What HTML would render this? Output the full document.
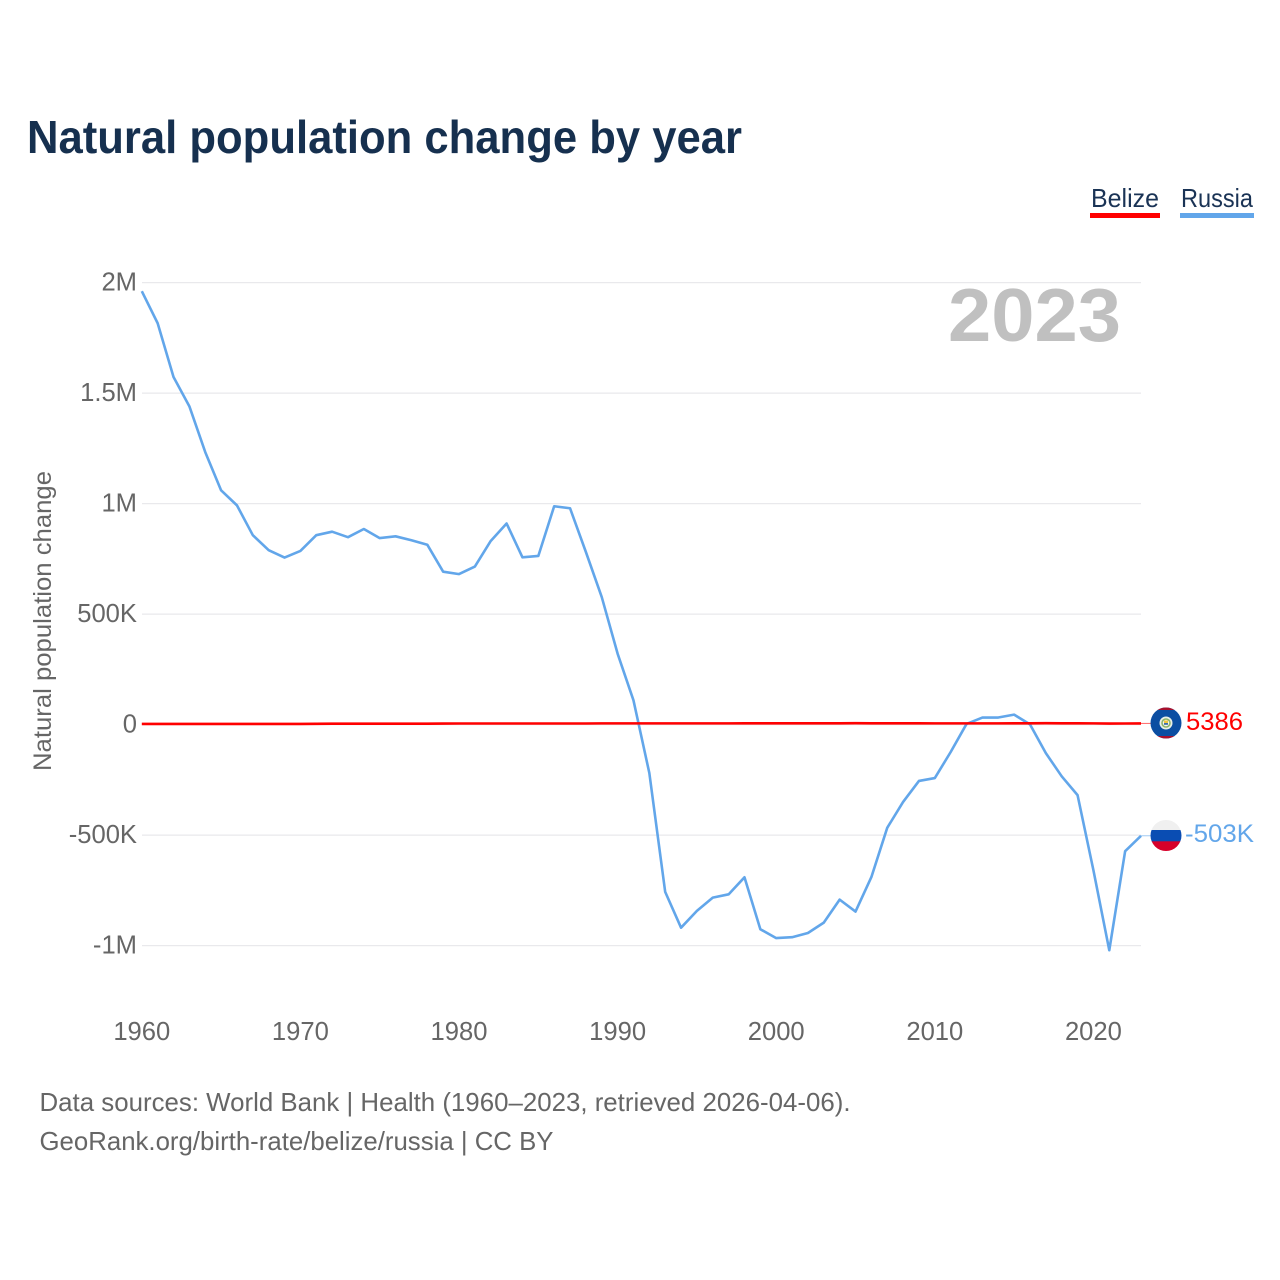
<!DOCTYPE html>
<html lang="en">
<head>
<meta charset="utf-8">
<title>Natural population change by year</title>
<style>
  html, body { margin: 0; padding: 0; background: #fff; }
  svg { display: block; font-family: "Liberation Sans", sans-serif; }
</style>
</head>
<body>
<svg id="chart" xmlns="http://www.w3.org/2000/svg" width="1280" height="1280" viewBox="0 0 1280 1280">
  <defs>
    <clipPath id="flag-clip-belize"><circle cx="1166" cy="723" r="15.5"/></clipPath>
    <clipPath id="flag-clip-russia"><circle cx="1166" cy="835.5" r="15.5"/></clipPath>
  </defs>
  <rect width="1280" height="1280" fill="#ffffff"/>

  <text x="27" y="153" font-size="46" font-weight="700" fill="#16304f" textLength="715" lengthAdjust="spacingAndGlyphs">Natural population change by year</text>

  <g>
    <text x="1091" y="207" font-size="26" fill="#1a3355" textLength="68" lengthAdjust="spacingAndGlyphs">Belize</text>
    <rect x="1090" y="213" width="70" height="5" fill="#ff0000"/>
  </g>
  <g>
    <text x="1181" y="207" font-size="26" fill="#1a3355" textLength="72" lengthAdjust="spacingAndGlyphs">Russia</text>
    <rect x="1180" y="213" width="74" height="5" fill="#62a6ea"/>
  </g>

  <g id="grid"></g>
  <g id="y-ticks"></g>
  <g id="x-ticks"></g>

  <text transform="translate(51 771) rotate(-90)" x="0" y="0" font-size="25" fill="#666666" textLength="300" lengthAdjust="spacingAndGlyphs">Natural population change</text>

  <text x="948" y="341" font-size="75" font-weight="700" fill="#c0c0c0" textLength="173" lengthAdjust="spacingAndGlyphs">2023</text>

  <g id="series"></g>

  <g clip-path="url(#flag-clip-belize)">
    <rect x="1150" y="707" width="32" height="32" fill="#0b4ea2"/>
    <rect x="1150" y="707" width="32" height="3" fill="#a8102c"/>
    <rect x="1150" y="736" width="32" height="3" fill="#a8102c"/>
    <circle cx="1166" cy="723" r="6.5" fill="#e9efe6"/>
    <circle cx="1166" cy="723" r="4.8" fill="#8db36a"/>
    <circle cx="1166" cy="723" r="3.2" fill="#f4f4ee"/>
    <rect x="1164" y="720.5" width="4" height="2.5" fill="#f0c63c"/>
    <rect x="1164" y="723" width="4" height="1.8" fill="#3b6ea8"/>
  </g>
  <g clip-path="url(#flag-clip-russia)">
    <rect x="1150" y="820" width="32" height="11" fill="#f0f0f0"/>
    <rect x="1150" y="830" width="32" height="11.5" fill="#0a4db3"/>
    <rect x="1150" y="841.3" width="32" height="11" fill="#d7002a"/>
  </g>

  <text id="end-label-belize" x="1186" y="730" font-size="25" fill="#ff0000" textLength="57" lengthAdjust="spacingAndGlyphs"></text>
  <text id="end-label-russia" x="1185" y="842" font-size="25" fill="#62a6ea" textLength="69" lengthAdjust="spacingAndGlyphs"></text>

  <text x="39.5" y="1111" font-size="26" fill="#666666" textLength="811" lengthAdjust="spacingAndGlyphs">Data sources: World Bank | Health (1960–2023, retrieved 2026-04-06).</text>
  <text x="39.5" y="1150" font-size="26" fill="#666666" textLength="514" lengthAdjust="spacingAndGlyphs">GeoRank.org/birth-rate/belize/russia | CC BY</text>
</svg>

<script>
const startYear = 1960;
const yTickValues = [2000, 1500, 1000, 500, 0, -500, -1000];
const yTickLabels = ["2M", "1.5M", "1M", "500K", "0", "-500K", "-1M"];
const xTickYears = [1960, 1970, 1980, 1990, 2000, 2010, 2020];

// Natural population change, thousands of people, 1960-2023
const russiaValues = [
  1961, 1816, 1573, 1440, 1233, 1060, 992, 857, 789, 756,
  786, 857, 873, 848, 885, 844, 852, 834, 814, 692,
  681, 715, 831, 910, 757, 763, 988, 979, 781, 577,
  321, 110, -219, -757, -919, -843, -783, -768, -691, -926,
  -966, -962, -943, -896, -792, -846, -690, -467, -350, -255,
  -242, -124, 3, 32, 32, 45, 1, -129, -234, -319,
  -659, -1021, -573, -503
];
const belizeValues = [
  3, 3, 3, 3, 3, 3, 3, 3, 3, 3,
  3, 3.5, 4, 4, 4, 4, 4, 4, 4, 4.5,
  5, 5, 5, 5, 5, 5, 5, 5, 5, 5.5,
  5.5, 5.5, 5.5, 5.5, 5.5, 5.5, 5.5, 5.5, 6, 6,
  6, 6, 6, 6, 6, 6.5, 6, 6, 6, 6,
  5.5, 5.5, 5.5, 5.5, 5.5, 6, 6, 6.5, 6, 6,
  5.5, 4.5, 5, 5.386
];
const endLabelBelize = "5386";
const endLabelRussia = "-503K";

const NS = "http://www.w3.org/2000/svg";
function xScale(year) { return 141.8 + (year - 1960) * (1141 - 141.8) / 63; }
function yScale(v) { return 724.6 - v * 0.221; }

function make(tag, attrs, text) {
  const el = document.createElementNS(NS, tag);
  for (const k in attrs) el.setAttribute(k, attrs[k]);
  if (text !== undefined) el.textContent = text;
  return el;
}

const grid = document.getElementById("grid");
const yTicks = document.getElementById("y-ticks");
const xTicks = document.getElementById("x-ticks");
const series = document.getElementById("series");

yTickValues.forEach(function (v, i) {
  const line = make("line", { x1: 142, x2: 1141, y1: yScale(v), y2: yScale(v), stroke: "#e9e9ec", "stroke-width": 1.3 });
  
  
  grid.appendChild(line);

  const label = make("text", { x: 137, y: yScale(v) + 8, "text-anchor": "end", "font-size": 25.6, fill: "#666666" }, yTickLabels[i]);
  
  
  yTicks.appendChild(label);
});

xTickYears.forEach(function (year) {
  const label = make("text", { x: xScale(year), y: 1040, "text-anchor": "middle", "font-size": 25.6, fill: "#666666" }, String(year));
  
  
  xTicks.appendChild(label);
});

function pathFor(values) {
  return values.map(function (v, i) {
    return (i ? "L" : "M") + xScale(startYear + i).toFixed(2) + " " + yScale(v).toFixed(2);
  }).join(" ");
}

const russiaLine = make("path", { d: pathFor(russiaValues), fill: "none", stroke: "#62a6ea", "stroke-width": 2.6, "stroke-linejoin": "round" });


series.appendChild(russiaLine);

const belizeLine = make("path", { d: pathFor(belizeValues), fill: "none", stroke: "#ff0000", "stroke-width": 2.6, "stroke-linejoin": "round" });


series.appendChild(belizeLine);

const lastYear = startYear + russiaValues.length - 1;

const belizeConnector = make("line", { x1: xScale(lastYear), x2: 1151, y1: yScale(belizeValues[belizeValues.length - 1]), y2: yScale(belizeValues[belizeValues.length - 1]), stroke: "#ff0000", "stroke-width": 1, opacity: 0.6 });


series.appendChild(belizeConnector);

const russiaConnector = make("line", { x1: xScale(lastYear), x2: 1151, y1: yScale(russiaValues[russiaValues.length - 1]), y2: yScale(russiaValues[russiaValues.length - 1]), stroke: "#62a6ea", "stroke-width": 1, opacity: 0.6 });


series.appendChild(russiaConnector);

document.getElementById("end-label-belize").textContent = endLabelBelize;
document.getElementById("end-label-russia").textContent = endLabelRussia;
</script>
</body>
</html>
